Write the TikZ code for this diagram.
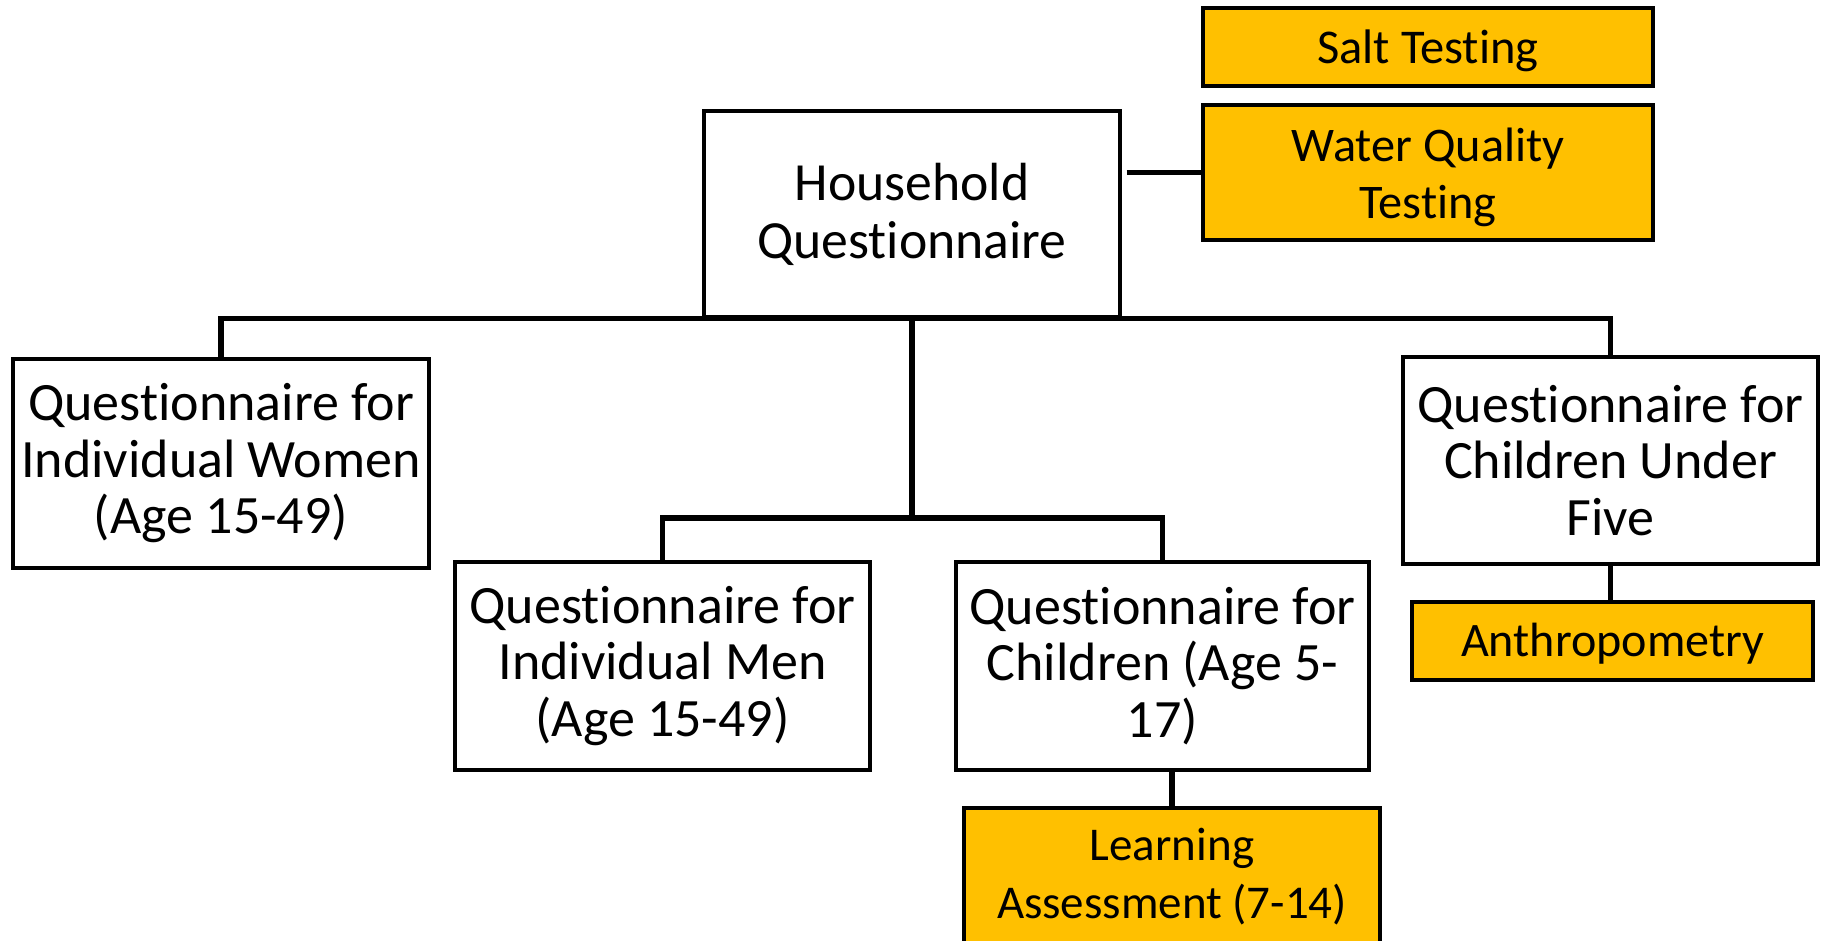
\documentclass[tikz,border=0pt]{standalone}
\usepackage{fontspec}
\setmainfont[Ligatures={NoCommon,NoContextual}]{Carlito}
\definecolor{gold}{HTML}{FFC000}
\tikzset{
  box/.style={draw=black, line width=3.2pt, fill=white, align=center, inner sep=0pt,
    font=\fontsize{54}{56.5}\selectfont, text=black},
  goldbox/.style={box, fill=gold},
  gtext/.style={align=center, inner sep=0pt, text=black},
  link/.style={draw=black, line width=5.5pt}
}
\begin{document}
\begin{tikzpicture}[x=1pt,y=-1pt]
\useasboundingbox (0,0) rectangle (1826,941);
\node[box, font=\fontsize{53.7}{58}\selectfont, minimum width=416pt, minimum height=206pt] (house) at (912,214) {Household\\Questionnaire};
\node[goldbox, minimum width=450pt, minimum height=78pt] (salt) at (1428,47) {};
\node[gtext, font=\fontsize{48.5}{57}\selectfont] (salttext) at ([yshift=-4pt]salt.center) {Salt Testing};
\node[goldbox, minimum width=450pt, minimum height=135pt] (water) at (1428,172.5) {};
\node[gtext, font=\fontsize{48.3}{57}\selectfont] (watertext) at ([yshift=-4.5pt]water.center) {Water Quality\\Testing};
\node[box, minimum width=416pt, minimum height=209pt] (women) at (221,463.5) {Questionnaire for\\Individual Women\\(Age 15-49)};
\node[box, minimum width=415pt, minimum height=208pt] (men) at (662.5,666) {Questionnaire for\\Individual Men\\(Age 15-49)};
\node[box, minimum width=413pt, minimum height=208pt] (children) at (1162.5,666) {Questionnaire for\\Children (Age 5-\\17)};
\node[box, minimum width=415pt, minimum height=207pt] (under) at (1610.5,460.5) {Questionnaire for\\Children Under\\Five};
\node[goldbox, minimum width=401pt, minimum height=78pt] (anthro) at (1612.5,641) {};
\node[gtext, font=\fontsize{48.1}{57}\selectfont] (anthrotext) at ([yshift=-3pt]anthro.center) {Anthropometry};
\node[goldbox, font=\fontsize{47}{58}\selectfont, minimum width=416pt, minimum height=138pt] (learn) at (1172,877) {Learning\\Assessment (7-14)};
% connectors
\draw[link, shorten <=5pt] (house.east |- water.west) -- (water.west);
\draw[link] (women.north) |- (house.south) -| (under.north);
\draw[link] (house.south) -- (house.south |- 0,518) coordinate (mid);
\draw[link] (men.north) |- (mid) -| (children.north);
\draw[link] (learn.north) -- (learn.north |- children.south);
\draw[link] (under.south) -- (under.south |- anthro.north);
\end{tikzpicture}
\end{document}
